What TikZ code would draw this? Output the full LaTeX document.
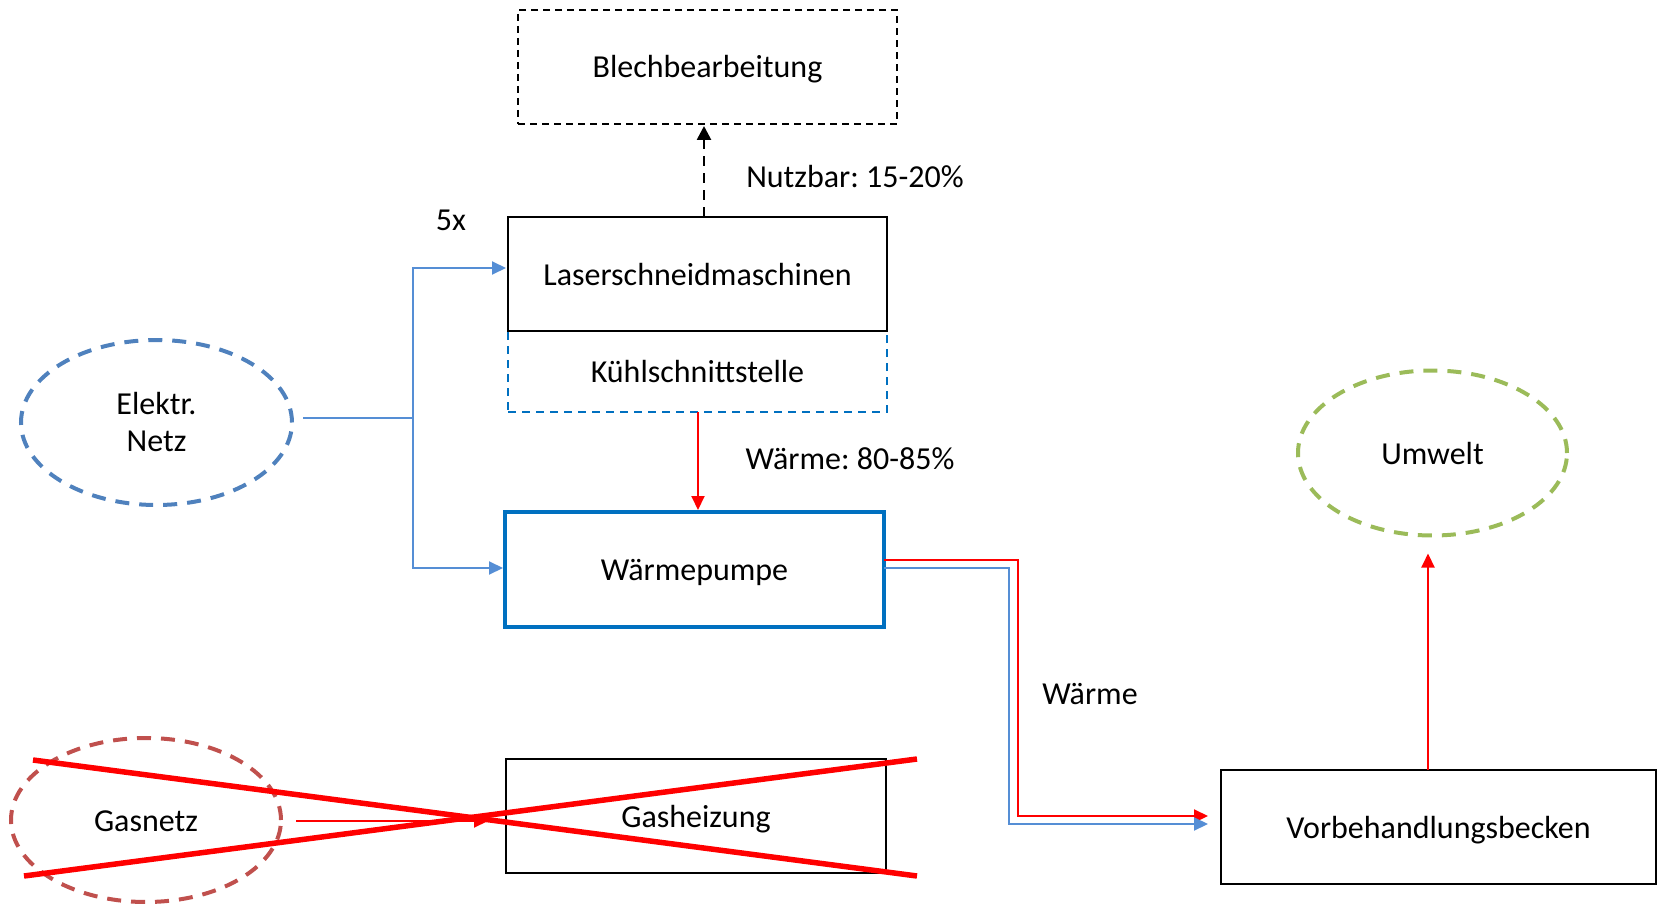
\documentclass[tikz,border=0pt]{standalone}
\usepackage{fontspec}
\setmainfont{Carlito}
\usetikzlibrary{arrows.meta,shapes.geometric,calc}
\definecolor{elkblue}{HTML}{558ED5}
\definecolor{wpblue}{HTML}{0070C0}
\definecolor{ellblue}{HTML}{4F81BD}
\definecolor{ellgreen}{HTML}{9BBB59}
\definecolor{ellred}{HTML}{C0504D}
\definecolor{pured}{HTML}{FF0000}
\begin{document}
\frenchspacing
\begin{tikzpicture}[x=1pt,y=-1pt,
  every node/.style={inner sep=0pt,outer sep=0pt,font=\fontsize{32}{37}\selectfont},
  txt/.style={text height=24pt,text depth=2pt},
  box/.style={draw=black,line width=1.8pt,rectangle,txt},
  dbox/.style={draw=black,line width=1.6pt,dash pattern=on 7pt off 5pt,rectangle,txt},
  kbox/.style={draw=wpblue,line width=1.5pt,dash pattern=on 8pt off 6pt,rectangle,txt},
  wpbox/.style={draw=wpblue,line width=3.5pt,rectangle,txt},
  dell/.style={ellipse,line width=4pt,dash pattern=on 14pt off 10pt},
  elk/.style={draw=elkblue,line width=2pt},
  rl/.style={draw=pured,line width=2pt},
  tip/.style={-{Triangle[length=14pt,width=13pt]}},
  cross/.style={draw=pured,line width=5.5pt}
]
\useasboundingbox (0,0) rectangle (1660,904);

% nodes
\node[dbox,minimum width=379pt,minimum height=114pt] (blech) at (707.5,67) {Blechbearbeitung};
\node[box,minimum width=379pt,minimum height=114pt] (laser) at (697.5,274) {Laserschneidmaschinen};
\node[kbox,minimum width=379pt,minimum height=81pt] (kuehl) at (697.5,371.5) {Kühlschnittstelle};
\draw[black,line width=1.8pt] (laser.south west) -- (laser.south east);
\node[wpbox,minimum width=379pt,minimum height=115pt] (wp) at (694.5,569.5) {Wärmepumpe};
\node[box,minimum width=380pt,minimum height=114pt] (gash) at (696,816) {Gasheizung};
\node[box,minimum width=435pt,minimum height=114pt] (vorb) at (1438.5,827) {Vorbehandlungsbecken};
\node[dell,draw=ellblue,minimum width=271pt,minimum height=165pt,align=center] (elektr) at (156.5,422.5) {Elektr.\\Netz};
\node[dell,draw=ellgreen,minimum width=269pt,minimum height=165pt,txt] (umwelt) at (1432.5,453) {Umwelt};
\node[dell,draw=ellred,minimum width=270pt,minimum height=164pt,txt] (gasnetz) at (146,820) {Gasnetz};

% labels
\node[txt] (l5x) at (451,219) {5x};
\node[txt] (lnutz) at (855,177) {Nutzbar: 15-20\%};
\node[txt] (lw8085) at (850,458) {Wärme: 80-85\%};
\node[txt] (lw) at (1090,693) {Wärme};

% electric connectors
\coordinate (j) at (413,418);
\draw[elk] ($(elektr.east)+(11,-4.5)$) -- (j);
\draw[elk,tip] (j) |- ($(laser.west)+(-2,-6)$);
\draw[elk,tip] (j) |- ($(wp.west)+(-2,-1.5)$);

% dashed up arrow
\draw[black,line width=2.6pt,dash pattern=on 10pt off 7pt,-{Triangle[length=14pt,width=14pt]}] ($(laser.north)+(6.5,0)$) -- ($(blech.south -| laser.north)+(6.5,2)$);

% red Kühl -> WP
\draw[rl,tip] ($(kuehl.south)+(0.5,0)$) -- ($(wp.north -| kuehl.south)+(0.5,-2)$);

% WP -> Vorbehandlung
\draw[rl,tip] ($(wp.east)+(0,-9.5)$) -- ++(134,0) |- ($(vorb.west)+(-13,-11)$);
\draw[elk,tip] ($(wp.east)+(0,-1.5)$) -- ++(125,0) |- ($(vorb.west)+(-13,-3)$);

% Vorbehandlung -> Umwelt
\draw[rl,tip] ($(vorb.north)+(-10.5,0)$) -- ($(umwelt.south -| vorb.north)+(-10.5,18)$);

% Gasnetz -> Gasheizung
\draw[rl,tip] ($(gasnetz.east)+(15,1)$) -- ($(gash.west)+(-18,5)$);

% strike-out cross
\draw[cross] (33,760) -- (917,876);
\draw[cross] (24,876) -- (917,759);
\end{tikzpicture}
\end{document}
